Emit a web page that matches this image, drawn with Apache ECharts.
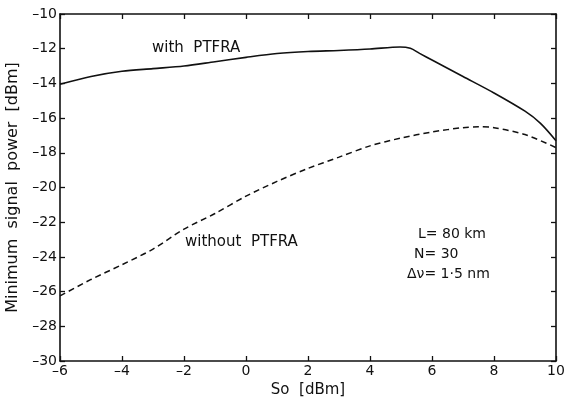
<!DOCTYPE html>
<html><head><meta charset="utf-8">
<script src="https://cdn.jsdelivr.net/npm/echarts@6/dist/echarts.min.js"></script>
<style>html,body{margin:0;padding:0;background:#fff}#c{width:564px;height:400px}</style>
</head><body><div id="c"></div>
<script>
const withX = [-6,-5,-4,-3,-2,-1,0,1,2,3,4,4.97,5.3,5.6,6,7,8,9,9.5,10];
const withY = [-14.05,-13.6,-13.3,-13.15,-13.0,-12.75,-12.5,-12.28,-12.16,-12.1,-12.02,-11.9,-11.98,-12.27,-12.65,-13.6,-14.55,-15.6,-16.3,-17.3];
const withoutX = [-6,-5,-4,-3,-2,-1,0,1,2,3,4,5,6,7,7.5,8,9,10];
const withoutY = [-26.25,-25.3,-24.45,-23.55,-22.4,-21.5,-20.5,-19.65,-18.9,-18.25,-17.6,-17.15,-16.8,-16.55,-16.5,-16.55,-16.95,-17.7];
const xTicks = {min:-6, max:10, interval:2};
const yTicks = {min:-30, max:-10, interval:2};
const labels = ["with  PTFRA","without  PTFRA","L= 80 km","N= 30","\u0394\u03BD= 1\u00B75 nm"];
const xName = "So  [dBm]";
const yName = "Minimum  signal  power  [dBm]";

const font = "DejaVu Sans";
const chart = echarts.init(document.getElementById('c'), null, {renderer:'canvas'});
const fmt = v => String(v).replace('-', '\u2013');
const axLine = {show:true, onZero:false, lineStyle:{color:'#111', width:1.6}};
const tick = {show:true, inside:true, length:5, lineStyle:{color:'#111', width:1.3}};
const pair = (xs, ys) => xs.map((x,i)=>[x, ys[i]]);
chart.setOption({
  animation:false,
  grid:{left:60, right:8, top:14, bottom:39, containLabel:false, outerBoundsMode:'none'},
  xAxis:[
    {type:'value', min:xTicks.min, max:xTicks.max, interval:xTicks.interval, position:'bottom',
     axisLine:axLine, axisTick:tick, splitLine:{show:false},
     axisLabel:{formatter:fmt, color:'#111', fontSize:14, fontFamily:font, margin:3},
     name:xName, nameLocation:'middle', nameGap:20, nameTextStyle:{color:'#111', fontSize:15, fontFamily:font}},
    {type:'value', min:xTicks.min, max:xTicks.max, interval:xTicks.interval, position:'top',
     axisLine:axLine, axisTick:tick, axisLabel:{show:false}, splitLine:{show:false}}
  ],
  yAxis:[
    {type:'value', min:yTicks.min, max:yTicks.max, interval:yTicks.interval, position:'left',
     axisLine:axLine, axisTick:tick, splitLine:{show:false},
     axisLabel:{formatter:fmt, color:'#111', fontSize:14, fontFamily:font, margin:3},
     name:yName, nameLocation:'middle', nameGap:38, nameTextStyle:{color:'#111', fontSize:16, fontFamily:font}},
    {type:'value', min:yTicks.min, max:yTicks.max, interval:yTicks.interval, position:'right',
     axisLine:axLine, axisTick:tick, axisLabel:{show:false}, splitLine:{show:false}}
  ],
  series:[
    {type:'line', data:pair(withX, withY), smooth:0.3, showSymbol:false, lineStyle:{color:'#111', width:1.6}},
    {type:'line', data:pair(withoutX, withoutY), smooth:0.3, showSymbol:false, lineStyle:{color:'#111', width:1.5, type:[6,4]}}
  ],
  graphic:[
    {type:'text', left:152, top:41, style:{text:labels[0], fill:'#111', font:'15px '+font}},
    {type:'text', left:185, top:235, style:{text:labels[1], fill:'#111', font:'15px '+font}},
    {type:'text', left:418, top:227, style:{text:labels[2], fill:'#111', font:'14px '+font}},
    {type:'text', left:414, top:247, style:{text:labels[3], fill:'#111', font:'14px '+font}},
    {type:'text', left:407, top:267, style:{text:labels[4], fill:'#111', font:'14px '+font}}
  ]
});
</script></body></html>
